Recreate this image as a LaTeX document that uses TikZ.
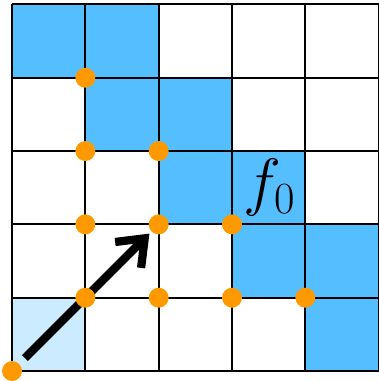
\documentclass[tikz,border=0pt]{standalone}
\usepackage{amssymb}
\usepackage{amsmath}
\usepackage{tikz}
\usetikzlibrary{arrows.meta}

\definecolor{cellblue}{RGB}{85,190,255}
\definecolor{cellpale}{RGB}{204,235,255}
\definecolor{dotorange}{RGB}{255,153,0}

\pgfdeclarelayer{board}
\pgfdeclarelayer{path}
\pgfsetlayers{board,path,main}

\begin{document}
\begin{tikzpicture}[x=1cm,y=1cm,
        dot/.style={circle,fill=dotorange,inner sep=0pt,minimum size=0.272cm},
        move/.style={line width=3.2pt,-{Straight Barb[length=0.32cm,width=0.5cm]},shorten <=3pt,shorten >=1pt}]
        \useasboundingbox (-0.164,-0.136) rectangle (5.0,5.06);
        \begin{pgfonlayer}{board}
        \foreach \x/\y in {0/4,1/4,1/3,2/3,2/2,3/2,3/1,4/1,4/0}
            \fill[cellblue] (\x,\y) rectangle ++(1,1);
        \fill[cellpale] (0,0) rectangle (1,1);
        \draw[line width=0.8pt] (0,0) grid (5,5);
        \end{pgfonlayer}
        \node[dot] (00) at (0,0) {};
        \node[dot] (14) at (1,4) {};
        \node[dot] (13) at (1,3) {};
        \node[dot] (23) at (2,3) {};
        \node[dot] (12) at (1,2) {};
        \node[dot] (22) at (2,2) {};
        \node[dot] (32) at (3,2) {};
        \node[dot] (11) at (1,1) {};
        \node[dot] (21) at (2,1) {};
        \node[dot] (31) at (3,1) {};
        \node[dot] (41) at (4,1) {};
        \node[inner sep=0pt,font=\fontsize{24}{28}\selectfont] (f) at (3.51,2.5) {$f_0$};
        \begin{pgfonlayer}{path}
        \draw[move] (00) -- (22);
        \end{pgfonlayer}
    \end{tikzpicture}
\end{document}
